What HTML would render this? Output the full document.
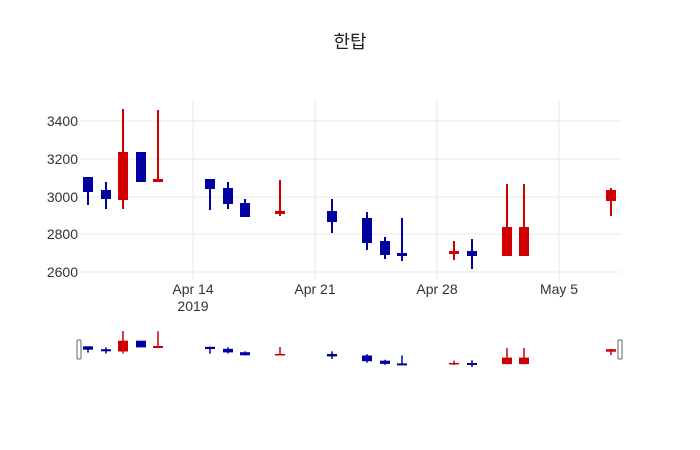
<!DOCTYPE html>
<html><head><meta charset="utf-8"><style>body{margin:0;background:#fff}svg{display:block}</style></head><body>
<svg width="700" height="450" xmlns="http://www.w3.org/2000/svg" font-family="'Liberation Sans','Noto Sans CJK KR',sans-serif">
<text x="350" y="48" text-anchor="middle" font-size="18" fill="#222">한탑</text>
<g stroke="#e8e8e8" stroke-width="1">
<line x1="80" x2="620" y1="121" y2="121"/><line x1="80" x2="620" y1="159" y2="159"/><line x1="80" x2="620" y1="197" y2="197"/><line x1="80" x2="620" y1="234" y2="234"/><line x1="80" x2="620" y1="272" y2="272"/>
<line x1="193" x2="193" y1="100" y2="280"/><line x1="315" x2="315" y1="100" y2="280"/><line x1="437" x2="437" y1="100" y2="280"/><line x1="559" x2="559" y1="100" y2="280"/>
</g>
<g font-size="14" fill="#333" text-anchor="end">
<text x="78" y="126">3400</text><text x="78" y="164">3200</text><text x="78" y="202">3000</text><text x="78" y="239">2800</text><text x="78" y="277">2600</text>
</g>
<g font-size="14" fill="#333" text-anchor="middle">
<text x="193" y="294">Apr 14</text><text x="193" y="311">2019</text><text x="315" y="294">Apr 21</text><text x="437" y="294">Apr 28</text><text x="559" y="294">May 5</text>
</g>
<g stroke="#0000a0" stroke-width="2" fill="#0000a0">
<line x1="88" x2="88" y1="177" y2="205"/><rect x="83" y="177" width="10" height="15" stroke="none"/>
<line x1="106" x2="106" y1="182" y2="209"/><rect x="101" y="190" width="10" height="9" stroke="none"/>
<line x1="141" x2="141" y1="152" y2="182"/><rect x="136" y="152" width="10" height="30" stroke="none"/>
<line x1="210" x2="210" y1="179" y2="210"/><rect x="205" y="179" width="10" height="10" stroke="none"/>
<line x1="228" x2="228" y1="182" y2="209"/><rect x="223" y="188" width="10" height="16" stroke="none"/>
<line x1="245" x2="245" y1="199" y2="217"/><rect x="240" y="203" width="10" height="14" stroke="none"/>
<line x1="332" x2="332" y1="199" y2="233"/><rect x="327" y="211" width="10" height="11" stroke="none"/>
<line x1="367" x2="367" y1="212" y2="250"/><rect x="362" y="218" width="10" height="25" stroke="none"/>
<line x1="385" x2="385" y1="237" y2="259"/><rect x="380" y="241" width="10" height="14" stroke="none"/>
<line x1="402" x2="402" y1="218" y2="261"/><rect x="397" y="253" width="10" height="3" stroke="none"/>
<line x1="472" x2="472" y1="239" y2="269"/><rect x="467" y="251" width="10" height="5" stroke="none"/>
</g>
<g stroke="#d10000" stroke-width="2" fill="#d10000">
<line x1="123" x2="123" y1="109" y2="209"/><rect x="118" y="152" width="10" height="48" stroke="none"/>
<line x1="158" x2="158" y1="110" y2="182"/><rect x="153" y="179" width="10" height="3" stroke="none"/>
<line x1="280" x2="280" y1="180" y2="216"/><rect x="275" y="211" width="10" height="3" stroke="none"/>
<line x1="454" x2="454" y1="241" y2="260"/><rect x="449" y="251" width="10" height="3" stroke="none"/>
<line x1="507" x2="507" y1="184" y2="256"/><rect x="502" y="227" width="10" height="29" stroke="none"/>
<line x1="524" x2="524" y1="184" y2="256"/><rect x="519" y="227" width="10" height="29" stroke="none"/>
<line x1="611" x2="611" y1="188" y2="216"/><rect x="606" y="190" width="10" height="11" stroke="none"/>
</g>
<g stroke="#0000a0" stroke-width="1.5" fill="#0000a0">
<line x1="88" x2="88" y1="346.3" y2="352.6"/><rect x="83" y="346.3" width="10" height="3.4" stroke="none"/>
<line x1="106" x2="106" y1="347.4" y2="353.5"/><rect x="101" y="349.2" width="10" height="2.1" stroke="none"/>
<line x1="141" x2="141" y1="340.7" y2="347.4"/><rect x="136" y="340.7" width="10" height="6.7" stroke="none"/>
<line x1="210" x2="210" y1="346.8" y2="353.7"/><rect x="205" y="346.8" width="10" height="2.2" stroke="none"/>
<line x1="228" x2="228" y1="347.4" y2="353.5"/><rect x="223" y="348.8" width="10" height="3.6" stroke="none"/>
<line x1="245" x2="245" y1="351.3" y2="355.3"/><rect x="240" y="352.2" width="10" height="3.1" stroke="none"/>
<line x1="332" x2="332" y1="351.3" y2="358.9"/><rect x="327" y="354" width="10" height="2.4" stroke="none"/>
<line x1="367" x2="367" y1="354.2" y2="362.7"/><rect x="362" y="355.5" width="10" height="5.7" stroke="none"/>
<line x1="385" x2="385" y1="359.8" y2="364.8"/><rect x="380" y="360.7" width="10" height="3.2" stroke="none"/>
<line x1="402" x2="402" y1="355.5" y2="365.2"/><rect x="397" y="363.4" width="10" height="2" stroke="none"/>
<line x1="472" x2="472" y1="360.3" y2="367"/><rect x="467" y="363" width="10" height="2" stroke="none"/>
</g>
<g stroke="#d10000" stroke-width="1.5" fill="#d10000">
<line x1="123" x2="123" y1="331" y2="353.5"/><rect x="118" y="340.7" width="10" height="10.8" stroke="none"/>
<line x1="158" x2="158" y1="331.2" y2="347.4"/><rect x="153" y="346" width="10" height="2" stroke="none"/>
<line x1="280" x2="280" y1="347" y2="355.1"/><rect x="275" y="354" width="10" height="1.5" stroke="none"/>
<line x1="454" x2="454" y1="360.7" y2="365"/><rect x="449" y="363" width="10" height="1.5" stroke="none"/>
<line x1="507" x2="507" y1="347.9" y2="364.1"/><rect x="502" y="357.6" width="10" height="6.5" stroke="none"/>
<line x1="524" x2="524" y1="347.9" y2="364.1"/><rect x="519" y="357.6" width="10" height="6.5" stroke="none"/>
<line x1="611" x2="611" y1="348.8" y2="355.1"/><rect x="606" y="349.2" width="10" height="2.5" stroke="none"/>
</g>
<rect x="77" y="340" width="4" height="19" fill="#fff" stroke="#666" stroke-width="1" rx="1"/>
<rect x="618" y="340" width="4" height="19" fill="#fff" stroke="#666" stroke-width="1" rx="1"/>
</svg>
</body></html>
